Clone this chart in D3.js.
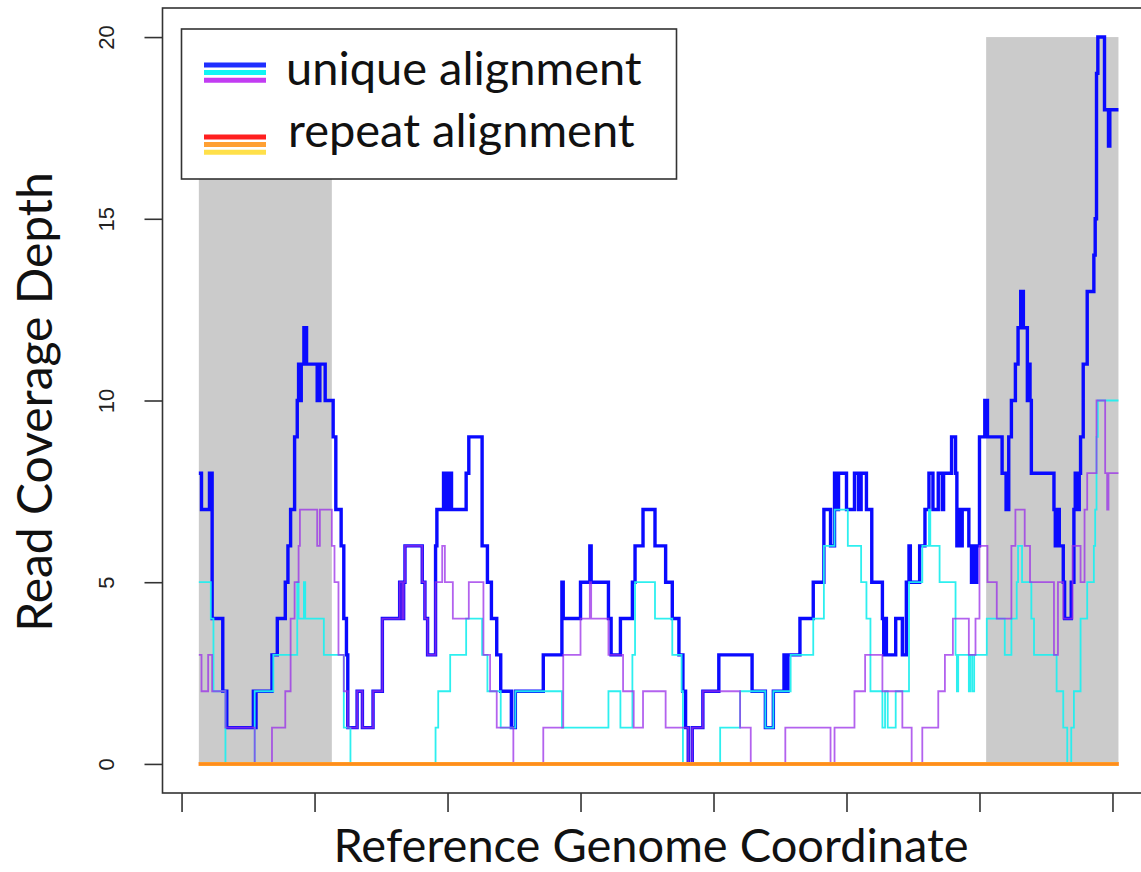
<!DOCTYPE html>
<html>
<head>
<meta charset="utf-8">
<script src="https://cdn.jsdelivr.net/npm/d3@7"></script>
<style>
  body { margin: 0; background: #fff; }
  svg { display: block; }
  .title { font-family: Lato, "Open Sans", sans-serif; fill: #111; }
  .tick text { font-family: "Liberation Sans Narrow", "Liberation Sans", sans-serif; font-stretch: condensed; fill: #222; }
</style>
</head>
<body>
<svg id="chart"></svg>
<script>
// step breakpoints [coordinate, depth]; each depth holds until the next coordinate
const uniqueTotal = [[13,8],[15,7],[21,8],[23,4],[31,2],[34,1],[54,2],[55,1],[56,2],[68,3],[72,4],[78,5],[80,6],[82,7],[85,9],[87,10],[88,11],[89,10],[90,11],[92,12],[94,11],[102,10],[104,11],[108,10],[114,9],[116,7],[120,6],[122,4],[124,3],[125,1],[132,2],[136,1],[144,2],[151,4],[164,5],[166,4],[167,5],[168,6],[181,5],[183,4],[185,3],[191,6],[192,7],[197,8],[198,7],[199,8],[201,7],[202,8],[203,7],[214,8],[216,9],[226,6],[230,5],[233,4],[237,3],[240,2],[248,1],[251,2],[272,3],[286,5],[287,4],[300,5],[307,6],[308,5],[321,4],[323,3],[330,4],[339,5],[341,6],[347,7],[356,6],[364,5],[369,4],[374,3],[377,2],[379,1],[381,0],[384,1],[392,2],[404,3],[429,2],[439,1],[445,2],[453,3],[454,2],[456,3],[465,4],[475,5],[483,7],[488,6],[491,8],[493,7],[494,8],[500,7],[506,8],[509,7],[511,8],[515,7],[519,5],[527,4],[528,3],[529,4],[530,3],[537,4],[542,3],[545,5],[547,6],[548,5],[555,6],[559,7],[562,8],[565,7],[569,8],[572,7],[573,8],[579,9],[582,8],[583,6],[584,7],[585,6],[587,7],[592,6],[594,5],[595,6],[597,5],[598,6],[600,9],[604,10],[606,9],[617,8],[620,7],[622,9],[624,10],[627,11],[629,12],[631,13],[633,12],[636,10],[637,11],[638,10],[639,8],[656,7],[657,6],[658,7],[660,6],[663,5],[664,4],[669,5],[671,7],[672,8],[673,7],[675,8],[676,9],[678,11],[681,13],[686,14],[687,15],[688,19],[689,20],[694,18],[697,17],[698,18],[704.5,18]];
const uniqueCyan = [[13,5],[22,4],[24,2],[33,0],[55,2],[69,3],[87,5],[88,4],[92,5],[93,4],[107,3],[122,1],[127,0],[191,1],[193,2],[202,3],[214,4],[226,3],[230,2],[240,1],[251,2],[286,1],[321,2],[330,1],[339,3],[341,5],[356,4],[369,3],[376,2],[377,0],[405,1],[420,2],[439,1],[445,2],[458,3],[475,4],[483,6],[491,7],[501,6],[511,5],[515,4],[518,2],[527,1],[529,2],[531,1],[537,2],[547,5],[557,6],[562,7],[563,6],[570,5],[582,3],[583,2],[584,3],[592,2],[593,3],[594.5,2],[596,3],[605.5,4],[619,3],[624,4],[628,5],[629,6],[632,5],[639,4],[641,3],[658,2],[663,1],[666,0],[669,1],[671,2],[676,4],[681,5],[686,6],[687,7],[688,9],[689,10],[704.5,10]];
const uniquePurple = [[13,3],[15,2],[20,3],[23,2],[33,1],[55,0],[68,1],[78,2],[82,4],[85,5],[88,6],[89,7],[102,6],[104,7],[113,6],[115,5],[118,3],[122,2],[125,1],[132,2],[136,1],[144,2],[151,4],[164,5],[166,4],[167,5],[168,6],[181,5],[183,4],[185,3],[191,5],[196,6],[198,5],[204,4],[216,5],[227,3],[232,2],[237,1],[249.5,0],[272,1],[287,3],[300,4],[307,5],[308,4],[321,3],[332,2],[340,1],[347,2],[364,1],[381,0],[384,1],[392,2],[420,1],[428,0],[454,1],[488,0],[491,1],[506,2],[514,3],[527,2],[542,1],[549,0],[557,1],[569,2],[574,3],[580,4],[592,3],[597,4],[600,6],[606,5],[613,4],[624,6],[627,7],[634,6],[638,5],[656,3],[659,5],[663,4],[670,6],[676,5],[679,7],[681,8],[688,10],[694.5,8],[696,7],[697,8],[704.5,8]];
const repeatRed = [[13,0],[704.5,0]];
const repeatYellow = [[13,0],[704.5,0]];
const repeatOrange = [[13,0],[704.5,0]];
const shadedRegions = [[13,113],[605,704.5]];
const yTicks = [0, 5, 10, 15, 20];
const xTicks = [0, 100, 200, 300, 400, 500, 600, 700];
const legendLabels = ['unique alignment', 'repeat alignment'];
const legendColors = [['#1f2eff', '#11f5f5', '#c23cf2'], ['#ff1f1f', '#ffa033', '#ffe04a']];

const w = 1141, h = 872;
const svg = d3.select('#chart').attr('width', w).attr('height', h);

const x = d3.scaleLinear().domain([-14.7, 732.2]).range([162, 1155.3]);
const y = d3.scaleLinear().domain([-0.8, 20.8]).range([793, 8]);

// grey shaded regions
svg.selectAll('rect.shade')
    .data(shadedRegions)
    .enter()
    .append('rect')
    .attr('class', 'shade')
    .attr('x', d => x(d[0]))
    .attr('width', d => x(d[1]) - x(d[0]))
    .attr('y', y(20))
    .attr('height', y(0) - y(20))
    .attr('fill', '#cbcbcb');

const stepLine = d3.line()
    .x(d => x(d[0]))
    .y(d => y(d[1]))
    .curve(d3.curveStepAfter);

const drawLine = (data, color, width, opacity) => {
    svg.append('path')
        .attr('d', stepLine(data))
        .attr('fill', 'none')
        .attr('stroke', color)
        .attr('stroke-width', width)
        .attr('stroke-opacity', opacity)
        .attr('stroke-linejoin', 'miter');
};

drawLine(uniqueTotal, '#0a0aff', 3.4, 1);
drawLine(uniqueCyan, '#22eeee', 1.8, 0.95);
drawLine(uniquePurple, '#9a2ee8', 1.8, 0.75);
drawLine(repeatRed, '#ff2020', 4, 1);
drawLine(repeatYellow, '#ffd040', 4, 1);
drawLine(repeatOrange, '#ff8c1e', 3.6, 1);

// box
svg.append('rect')
    .attr('x', 162.5)
    .attr('y', 8)
    .attr('width', x.range()[1] - 162.5)
    .attr('height', 785)
    .attr('fill', 'none')
    .attr('stroke', '#333')
    .attr('stroke-width', 1.6);

// y axis
const yAxis = svg.append('g')
    .attr('transform', 'translate(162.5,0)')
    .call(d3.axisLeft(y).tickValues(yTicks).tickSize(18));
yAxis.select('.domain').remove();
yAxis.selectAll('line').attr('stroke', '#333').attr('stroke-width', 1.6);
yAxis.selectAll('text')
    .attr('x', null)
    .attr('dy', null)
    .attr('text-anchor', 'middle')
    .attr('transform', 'translate(-49,0) rotate(-90)')
    .style('font-size', '22px');

// x axis, ticks only
const xAxis = svg.append('g')
    .attr('transform', 'translate(0,793)')
    .call(d3.axisBottom(x).tickValues(xTicks).tickSize(19).tickFormat(''));
xAxis.select('.domain').remove();
xAxis.selectAll('line').attr('stroke', '#333').attr('stroke-width', 1.6);

// titles
svg.append('text')
    .attr('class', 'title')
    .attr('transform', 'translate(52,402) rotate(-90)')
    .attr('text-anchor', 'middle')
    .style('font-size', '48px')
    .text('Read Coverage Depth');

svg.append('text')
    .attr('class', 'title')
    .attr('x', 651)
    .attr('y', 862)
    .attr('text-anchor', 'middle')
    .style('font-size', '47px')
    .text('Reference Genome Coordinate');

// legend
const legend = svg.append('g');
legend.append('rect')
    .attr('x', 181.5)
    .attr('y', 29)
    .attr('width', 495)
    .attr('height', 150)
    .attr('fill', '#fff')
    .attr('stroke', '#333')
    .attr('stroke-width', 1.6);

const legendRows = [65, 137];
legendLabels.forEach((label, i) => {
    legendColors[i].forEach((c, j) => {
        legend.append('line')
            .attr('x1', 204)
            .attr('x2', 266)
            .attr('y1', legendRows[i] + j * 7.6)
            .attr('y2', legendRows[i] + j * 7.6)
            .attr('stroke', c)
            .attr('stroke-width', 5);
    });
    legend.append('text')
        .attr('class', 'title')
        .attr('x', i === 0 ? 286 : 288)
        .attr('y', i === 0 ? 85 : 147)
        .style('font-size', '47px')
        .text(label);
});
</script>
</body>
</html>
